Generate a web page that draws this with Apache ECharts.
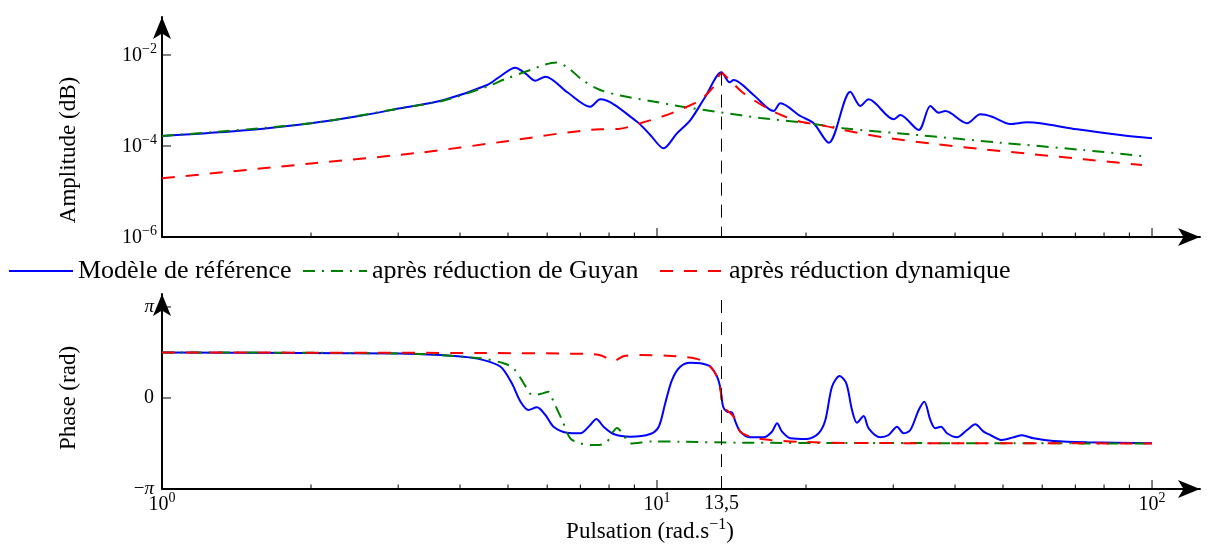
<!DOCTYPE html>
<html>
<head>
<meta charset="utf-8">
<title>Diagramme de Bode</title>
<style>
  html, body { margin: 0; padding: 0; background: #fff; }
  #chart { width: 1228px; height: 547px; }
</style>
</head>
<body>
<div id="chart"></div>
<script src="https://cdn.jsdelivr.net/npm/echarts@6/dist/echarts.min.js"></script>
<script>
"use strict";
// [pulsation (rad/s), amplitude]
var ampReference = [[1, 1.66e-4], [1.5, 2.25e-4], [2, 3.16e-4], [2.5, 4.56e-4], [3.03, 6.75e-4], [3.71, 1.03e-3],
	[4.54, 2.19e-3], [4.83, 3.45e-3], [5.17, 5.26e-3], [5.42, 3.96e-3], [5.68, 2.72e-3], [5.95, 3.33e-3],
	[6.6, 1.5e-3], [7.33, 7.31e-4], [7.68, 1.06e-3], [9.11, 3.42e-4], [9.69, 1.75e-4], [10.31, 8.89e-5],
	[10.97, 1.9e-4], [11.68, 3.72e-4], [12.52, 1.21e-3], [13.5, 4.17e-3], [14.02, 2.51e-3], [14.28, 2.82e-3],
	[15.67, 1.32e-3], [17.2, 5.87e-4], [17.75, 8.67e-4], [19.48, 4.56e-4], [20.72, 3.16e-4], [22.22, 1.18e-4],
	[24.58, 1.56e-3], [25.75, 7.57e-4], [26.76, 1.06e-3], [30.06, 3.86e-4], [31.01, 4.8e-4], [33.78, 2.25e-4],
	[35.66, 7.57e-4], [37.06, 5.4e-4], [38.23, 5.87e-4], [42.3, 3.16e-4], [44.99, 4.98e-4], [47.52, 4.41e-4],
	[51.72, 3.05e-4], [55.92, 3.32e-4], [59.47, 3.16e-4], [70.56, 2.33e-4], [86.3, 1.75e-4], [100, 1.48e-4]];
var ampGuyan = [[1, 1.66e-4], [2, 3.16e-4], [3.03, 6.75e-4], [3.71, 1.0e-3], [4.54, 2.03e-3], [4.94, 2.97e-3],
	[5.55, 4.68e-3], [5.95, 6.18e-3], [6.26, 6.84e-3], [6.62, 5.18e-3], [7.07, 2.82e-3], [7.68, 1.7e-3],
	[8.43, 1.29e-3], [9.69, 9.75e-4], [11.68, 6.84e-4], [13.5, 5.44e-4], [16.17, 4.12e-4], [20.09, 3.2e-4],
	[23.79, 2.45e-4], [33.53, 1.75e-4], [49.38, 1.18e-4], [72.63, 8.17e-5], [98, 5.8e-5]];
var ampDynamique = [[1, 1.95e-5], [2, 4.12e-5], [3.32, 7.13e-5], [4.83, 1.22e-4], [7.68, 2.33e-4], [8.35, 2.36e-4],
	[9.25, 3.16e-4], [10.31, 4.56e-4], [11.32, 6.75e-4], [12.23, 1.03e-3], [13.01, 2.01e-3], [13.5, 3.96e-3],
	[14.06, 2.72e-3], [14.96, 1.44e-3], [16.94, 6.18e-4], [18.02, 4.56e-4], [19.48, 3.42e-4], [21.38, 2.9e-4],
	[23.82, 2.25e-4], [28.7, 1.55e-4], [36.21, 1.11e-4], [45.69, 8.45e-5], [57.65, 6.58e-5], [72.73, 5.11e-5],
	[95.4, 3.82e-5]];

// [pulsation (rad/s), phase (rad)]
var phaseReference = [[1, 1.571], [1.9, 1.553], [3.03, 1.536], [3.65, 1.484], [4.01, 1.433], [4.4, 1.336],
	[4.83, 1.08], [5.09, 0.507], [5.3, -0.128], [5.5, -0.414], [5.72, -0.321], [5.95, -0.587], [6.18, -0.991],
	[6.58, -1.198], [7.0, -1.218], [7.33, -0.932], [7.54, -0.725], [7.8, -0.991], [8.17, -1.243], [8.83, -1.336],
	[9.69, -1.243], [10.08, -0.991], [10.39, -0.183], [10.72, 0.621], [11.14, 1.08], [11.68, 1.218],
	[12.23, 1.198], [12.82, 1.08], [13.22, 0.735], [13.43, 0.335], [13.6, -0.3], [13.85, -0.473],
	[14.18, -0.507], [14.4, -0.818], [14.74, -1.163], [15.44, -1.357], [16.42, -1.357], [17.07, -1.163],
	[17.48, -0.873], [17.89, -1.163], [18.59, -1.391], [20.09, -1.415], [21.21, -1.218], [21.88, -0.759],
	[22.57, 0.39], [23.38, 0.759], [24.12, 0.507], [24.77, -0.414], [25.35, -0.853], [26.15, -0.621],
	[26.76, -1.046], [28.26, -1.357], [29.37, -1.277], [30.54, -0.991], [31.49, -1.218], [32.49, -1.105],
	[33.78, -0.414], [34.67, -0.128], [35.66, -0.759], [36.49, -1.046], [37.47, -0.991], [38.54, -1.218],
	[40.37, -1.357], [42.3, -1.105], [43.95, -0.908], [45.69, -1.163], [47.13, -1.277], [49.77, -1.45],
	[52.52, -1.357], [54.62, -1.288], [57.65, -1.391], [63.26, -1.484], [73.9, -1.529], [100, -1.564]];
var phaseGuyan = [[1, 1.571], [3.03, 1.536], [4.4, 1.37], [4.9, 1.198], [5.13, 1.025], [5.46, 0.335],
	[5.59, 0.104], [5.81, 0.138], [6.04, 0.217], [6.18, -0.128], [6.43, -0.759], [6.68, -1.391], [7.0, -1.564],
	[7.33, -1.622], [7.64, -1.622], [7.93, -1.508], [8.12, -1.208], [8.3, -1.036], [8.56, -1.277],
	[8.83, -1.57], [9.84, -1.5], [11.14, -1.508], [14.74, -1.543], [24.58, -1.553], [100, -1.571]];
var phaseDynamique = [[1, 1.571], [4.4, 1.553], [7.33, 1.519], [7.74, 1.46], [8.17, 1.277], [8.58, 1.45],
	[9.25, 1.484], [10.48, 1.46], [11.5, 1.405], [12.23, 1.312], [12.82, 1.08], [13.22, 0.735], [13.43, 0.276],
	[13.6, -0.3], [13.95, -0.473], [14.28, -0.645], [14.74, -1.163], [15.67, -1.37], [16.94, -1.45],
	[19.18, -1.508], [24.58, -1.553], [100, -1.567]];

var seriesNames = ['Modèle de référence', 'après réduction de Guyan', 'après réduction dynamique'];
var omegaCut = 13.5, ampCutTop = 4.1e-3, phaseCutTop = 3.38;
var xMinorTicks = [2, 3, 4, 5, 6, 7, 8, 9, 20, 30, 40, 50, 60, 70, 80, 90];
var xMajorTicks = [10, 13.5, 100];
var ampTicks = [1e-4, 1e-2];
var phaseTicks = [-Math.PI, 0, Math.PI];
var xRange = [1, 125], ampRange = [1e-6, 0.0684], phaseRange = [-Math.PI, 3.59];

var font = 'Liberation Serif';
var colors = ['#0000ff', '#008000', '#ff0000'];
var dashes = ['solid', [12, 7, 2, 7], [13, 11]];

function sup(n) { return String(n).replace('-', '\u2212'); }
function powLabel(v) { return '{b|10}{s|' + sup(Math.round(Math.log10(v))) + '}'; }
function phaseLabel(v) {
	if (Math.abs(v) < 1e-9) return '{n|0}';
	return (v < 0 ? '{m|\u2212}' : '') + '{p|\u03c0}';
}
var powRich = {
	b: { fontFamily: font, fontSize: 20, lineHeight: 22, color: '#000', verticalAlign: 'bottom' },
	s: { fontFamily: font, fontSize: 14, lineHeight: 14, padding: [0, 0, 10, 0], color: '#000', verticalAlign: 'bottom' }
};

function vTick(len) {
	return function (params, api) {
		var p = api.coord([api.value(0), api.value(1)]);
		return { type: 'line', shape: { x1: p[0], y1: p[1], x2: p[0], y2: p[1] - len }, style: { stroke: '#000', lineWidth: 1 } };
	};
}
function hTick(len) {
	return function (params, api) {
		var p = api.coord([api.value(0), api.value(1)]);
		return { type: 'line', shape: { x1: p[0], y1: p[1], x2: p[0] + len, y2: p[1] }, style: { stroke: '#000', lineWidth: 1 } };
	};
}

var arrowLine = { show: true, onZero: false, symbol: ['none', 'arrow'], symbolSize: [13.5, 22], lineStyle: { color: '#000', width: 2 } };
var nameStyle = { fontFamily: font, fontSize: 23, color: '#000' };

function curve(i, axis, data) {
	return {
		name: seriesNames[i], type: 'line', xAxisIndex: axis, yAxisIndex: axis, data: data,
		symbol: 'none', showSymbol: false, smooth: 0.3,
		lineStyle: { color: colors[i], width: 2, type: dashes[i] }, itemStyle: { color: colors[i] }
	};
}
function ticks(axis, vals, yMin, fn, len) {
	return {
		type: 'custom', xAxisIndex: axis, yAxisIndex: axis, silent: true, clip: false, z: 5,
		data: vals.map(function (v) { return fn === vTick ? [v, yMin] : [xRange[0], v]; }),
		renderItem: fn(len)
	};
}

var series = [
	curve(0, 0, ampReference), curve(1, 0, ampGuyan), curve(2, 0, ampDynamique),
	curve(0, 1, phaseReference), curve(1, 1, phaseGuyan), curve(2, 1, phaseDynamique),
	ticks(0, xMinorTicks, ampRange[0], vTick, 4.5), ticks(0, xMajorTicks, ampRange[0], vTick, 9),
	ticks(1, xMinorTicks, phaseRange[0], vTick, 4.5), ticks(1, xMajorTicks, phaseRange[0], vTick, 9),
	ticks(0, ampTicks, 0, hTick, 9), ticks(1, phaseTicks.slice(1), 0, hTick, 9)
];
var cutStyle = { color: '#000', width: 1, type: [13, 9] };
series[0].markLine = {
	silent: true, symbol: 'none', animation: false, lineStyle: cutStyle, label: { show: false },
	data: [[{ coord: [omegaCut, ampCutTop] }, { coord: [omegaCut, ampRange[0]] }]]
};
series[3].markLine = {
	silent: true, symbol: 'none', animation: false, lineStyle: cutStyle,
	label: { show: true, position: 'end', distance: 5, formatter: String(omegaCut).replace('.', ','),
		fontFamily: font, fontSize: 20, color: '#000' },
	data: [[{ coord: [omegaCut, phaseCutTop] }, { coord: [omegaCut, phaseRange[0]] }]]
};

var legendLeft = [8, 302, 659];
var option = {
	animation: false,
	textStyle: { fontFamily: font },
	grid: [
		{ left: 162, right: 28, top: 17, height: 220, outerBoundsMode: 'none' },
		{ left: 162, right: 28, top: 294, height: 195, outerBoundsMode: 'none' }
	],
	legend: seriesNames.map(function (n, i) {
		return { data: [n], left: legendLeft[i], top: 258, padding: 0, itemWidth: 64, itemHeight: 14,
			selectedMode: false, itemStyle: { opacity: 0 },
			textStyle: { fontFamily: font, fontSize: 26, lineHeight: 26, color: '#000' } };
	}),
	xAxis: [
		{ gridIndex: 0, type: 'log', min: xRange[0], max: xRange[1], axisLine: arrowLine,
			axisTick: { show: false }, axisLabel: { show: false }, splitLine: { show: false } },
		{ gridIndex: 1, type: 'log', min: xRange[0], max: xRange[1], axisLine: arrowLine,
			axisTick: { show: false }, splitLine: { show: false },
			axisLabel: { formatter: powLabel, rich: powRich, margin: 4, showMaxLabel: false },
			name: '{t|Pulsation (rad.s}{s|\u22121}{t|)}', nameLocation: 'middle', nameGap: 28, nameMoveOverlap: false,
			nameTextStyle: { padding: [0, 62, 0, 0], rich: {
				t: { fontFamily: font, fontSize: 23, lineHeight: 26, color: '#000', verticalAlign: 'bottom' },
				s: { fontFamily: font, fontSize: 16, lineHeight: 16, padding: [0, 0, 10, 0], color: '#000', verticalAlign: 'bottom' }
			} } }
	],
	yAxis: [
		{ gridIndex: 0, type: 'log', logBase: 100, min: ampRange[0], max: ampRange[1], axisLine: arrowLine,
			axisTick: { show: false }, splitLine: { show: false },
			axisLabel: { formatter: powLabel, rich: powRich, margin: 5, showMaxLabel: false },
			name: 'Amplitude (dB)', nameLocation: 'middle', nameRotate: 90, nameGap: 82, nameMoveOverlap: false,
			nameTextStyle: Object.assign({ padding: [0, 46, 0, 0] }, nameStyle) },
		{ gridIndex: 1, type: 'value', min: phaseRange[0], max: phaseRange[1], axisLine: arrowLine,
			axisTick: { show: false }, splitLine: { show: false },
			axisLabel: { customValues: phaseTicks, formatter: phaseLabel, margin: 8, rich: {
				n: { fontFamily: font, fontSize: 20, color: '#000' },
				m: { fontFamily: font, fontSize: 19, color: '#000' },
				p: { fontFamily: font, fontSize: 19, fontStyle: 'italic', color: '#000' }
			} },
			name: 'Phase (rad)', nameLocation: 'middle', nameRotate: 90, nameGap: 82, nameMoveOverlap: false,
			nameTextStyle: Object.assign({ padding: [0, 13, 0, 0] }, nameStyle) }
	],
	series: series
};

var chart = echarts.init(document.getElementById('chart'));
chart.setOption(option);
</script>
</body>
</html>
